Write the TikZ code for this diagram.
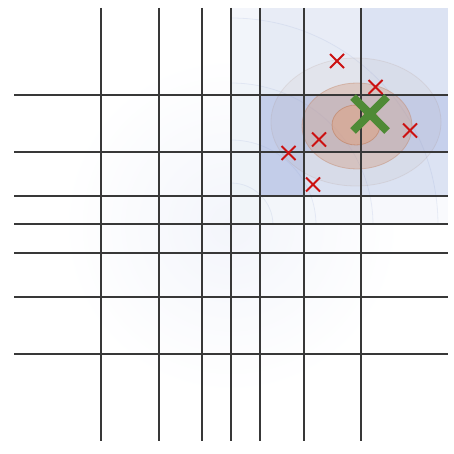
\documentclass[tikz,border=0pt]{standalone}
\usetikzlibrary{calc}
\definecolor{cellA}{HTML}{C6D0EC}
\definecolor{cellB}{HTML}{DCE3F3}
\definecolor{cellC}{HTML}{E8ECF6}
\definecolor{cellD}{HTML}{F4F6FB}
\definecolor{cellE}{HTML}{F9FAFD}
\definecolor{tint}{HTML}{F3F5FB}
\definecolor{gridc}{HTML}{383838}
\definecolor{redx}{HTML}{CC1111}
\definecolor{greenx}{HTML}{4F8A36}
\definecolor{orng}{HTML}{E0A07E}
\definecolor{orngedge}{HTML}{C08060}
\definecolor{fblue}{HTML}{8FA3D6}
\tikzset{
  gridline/.style={draw=gridc, line width=1.25pt},
  faintcirc/.style={draw=fblue, draw opacity=0.16, line width=0.8pt, fill=fblue, fill opacity=0.012},
  redmark/.style={draw=redx, line width=2pt},
  greenmark/.style={draw=greenx, line width=8pt},
}
\begin{document}
\begin{tikzpicture}[x=1pt,y=-1pt]
\useasboundingbox (0,0) rectangle (453,454);
\fill[white] (0,0) rectangle (453,454);
% very faint overall tint around the centre
\shade[inner color=tint, outer color=white] (231,225) circle[radius=170];
% cell shading
\fill[cellE] (231,196) rectangle (448,224);
\fill[cellD] (231,8) rectangle (260,196);
\fill[cellC] (260,8) rectangle (361,95);
\fill[cellB] (361,8) rectangle (448,95);
\fill[cellA] (260,95) rectangle (448,152);
\fill[cellA] (260,152) rectangle (304,196);
\fill[cellB] (304,152) rectangle (448,196);
% faint gaussian contours
\begin{scope}
\clip (231,8) rectangle (448,224);
\foreach \r in {207,142,85,42} {
  \path[faintcirc] (231,225) circle[radius=\r];
}
\end{scope}
% orange ellipses
\path[fill=orng!50!gray, fill opacity=0.07, draw=orngedge!60!gray, draw opacity=0.14, line width=0.8pt]
  (356,122) ellipse[x radius=85, y radius=64];
\path[fill=orng!85!gray, fill opacity=0.36, draw=orngedge, draw opacity=0.4, line width=0.8pt]
  (357,126) ellipse[x radius=55, y radius=43];
\path[fill=orng, fill opacity=0.5, draw=orngedge, draw opacity=0.6, line width=0.8pt]
  (356,125) ellipse[x radius=24, y radius=20];
% grid
\foreach \x in {101,159,202,231,260,304,361} {
  \draw[gridline] (\x,8) -- (\x,441);
}
\foreach \y in {95,152,196,224,253,297,354} {
  \draw[gridline] (14,\y) -- (448,\y);
}
% red crosses
\foreach \px/\py in {337/61, 375.5/87, 319/139.5, 288.5/153, 313/184.5, 410/130.5} {
  \draw[redmark] (\px-7,\py-7) -- (\px+7,\py+7) (\px-7,\py+7) -- (\px+7,\py-7);
}
% green cross
\draw[greenmark] (353,97) -- (387,131) (353,131) -- (387,97);
\end{tikzpicture}
\end{document}
